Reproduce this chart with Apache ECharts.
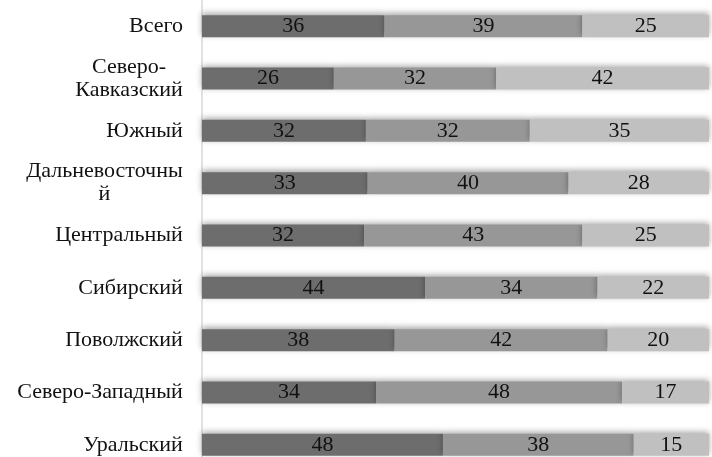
<!DOCTYPE html>
<html>
<head>
<meta charset="utf-8">
<script src="https://cdn.jsdelivr.net/npm/echarts@6/dist/echarts.min.js"></script>
<style>
  html, body { margin: 0; padding: 0; background: #fff; }
  #chart { width: 712px; height: 457px; }
</style>
</head>
<body>
<div id="chart"></div>
<script>
// Регионы сверху вниз
const regions = [
  "Всего",
  "Северо-\nКавказский",
  "Южный",
  "Дальневосточны\nй",
  "Центральный",
  "Сибирский",
  "Поволжский",
  "Северо-Западный",
  "Уральский",
];
const part1 = [36, 26, 32, 33, 32, 44, 38, 34, 48];
const part2 = [39, 32, 32, 40, 43, 34, 42, 48, 38];
const part3 = [25, 42, 35, 28, 25, 22, 20, 17, 15];

const FONT = "Liberation Serif, Times New Roman, serif";
const FS = 22;
const TXT = "#111";
const COLORS = ["#6d6d6d", "#979797", "#c0c0c0"];

// ширина строк подписи — чтобы многострочные подписи центрировались внутри блока
const ctx = document.createElement("canvas").getContext("2d");
ctx.font = `${FS}px ${FONT}`;
const rich = {};
regions.forEach((r, i) => {
  const w = Math.max(...r.split("\n").map((s) => ctx.measureText(s).width));
  rich["l" + i] = { width: Math.ceil(w), align: "center", fontFamily: FONT, fontSize: FS, color: TXT, lineHeight: 23 };
});

// 100%-нормировка (сумма в строке может быть 99 или 101)
const sums = part1.map((v, i) => v + part2[i] + part3[i]);
const share = (arr) => arr.map((v, i) => (v / sums[i]) * 100);

const chart = echarts.init(document.getElementById("chart"), null, { renderer: "canvas" });

const mkSeries = (arr, idx) => ({
  type: "bar",
  stack: "all",
  data: share(arr),
  barWidth: 22,
  itemStyle: {
    color: COLORS[idx],
    shadowColor: "rgba(0,0,0,0.35)",
    shadowBlur: 6,
    shadowOffsetY: -2,
  },
  label: {
    show: true,
    position: "inside",
    color: TXT,
    fontFamily: FONT,
    fontSize: FS,
    formatter: (p) => String(arr[p.dataIndex]),
  },
  emphasis: { disabled: true },
  animation: false,
});

chart.setOption({
  animation: false,
  grid: { left: 202, top: 0, width: 507, height: 471, containLabel: false, outerBoundsMode: "none" },
  xAxis: {
    type: "value",
    min: 0,
    max: 100,
    show: false,
  },
  yAxis: {
    type: "category",
    inverse: true,
    data: regions,
    axisLine: { show: true, lineStyle: { color: "#d9d9d9", width: 1.5 } },
    axisTick: { show: false },
    axisLabel: {
      margin: 19,
      formatter: (v, i) => v.split("\n").map((s) => `{l${i}|${s}}`).join("\n"),
      rich,
    },
  },
  series: [mkSeries(part1, 0), mkSeries(part2, 1), mkSeries(part3, 2)],
});
</script>
</body>
</html>
